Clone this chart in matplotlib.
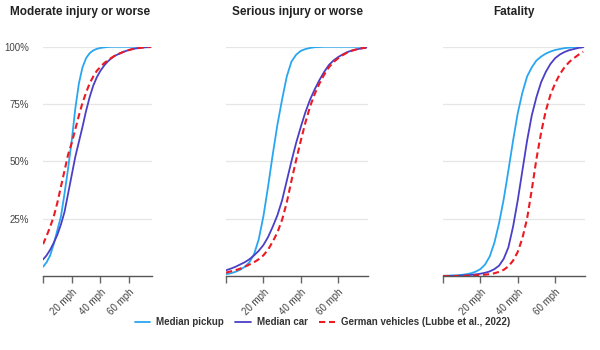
import matplotlib
matplotlib.use("Agg")
import matplotlib.pyplot as plt

plt.rcParams['font.family'] = ['Liberation Sans', 'DejaVu Sans']

# speed in mph (every 2.5 mph), values are the share of pedestrians injured
speed_mph = [0, 2.5, 5, 7.5, 10, 12.5, 15, 17.5, 20, 22.5, 25, 27.5, 30, 32.5, 35, 37.5,
             40, 42.5, 45, 47.5, 50, 52.5, 55, 57.5, 60, 62.5, 65, 67.5, 70, 72.5, 75]

moderate_pickup = [0.04, 0.06, 0.09, 0.14, 0.20, 0.26, 0.36, 0.47, 0.59, 0.73, 0.84, 0.91,
                   0.95, 0.972, 0.984, 0.991, 0.995, 0.997, 0.999, 1, 1, 1, 1, 1, 1, 1,
                   1, 1, 1, 1, 1]
moderate_car = [0.072, 0.09, 0.115, 0.145, 0.18, 0.225, 0.28, 0.36, 0.44, 0.52, 0.585, 0.65,
                0.72, 0.78, 0.83, 0.867, 0.895, 0.917, 0.935, 0.949, 0.96, 0.968, 0.975,
                0.981, 0.986, 0.99, 0.993, 0.995, 0.997, 0.998, 0.999]
moderate_german = [0.139, 0.175, 0.215, 0.26, 0.32, 0.39, 0.46, 0.53, 0.58, 0.64, 0.70, 0.755,
                   0.80, 0.84, 0.87, 0.895, 0.912, 0.928, 0.94, 0.951, 0.961, 0.968, 0.975,
                   0.981, 0.986, 0.99, 0.993, 0.995, 0.997, 0.998, 0.999]

serious_pickup = [0.008, 0.012, 0.018, 0.027, 0.04, 0.06, 0.095, 0.16, 0.26, 0.39, 0.53, 0.66,
                  0.77, 0.87, 0.935, 0.965, 0.982, 0.99, 0.995, 0.998, 0.999, 1, 1, 1, 1,
                  1, 1, 1, 1, 1, 1]
serious_car = [0.025, 0.032, 0.04, 0.05, 0.06, 0.073, 0.09, 0.11, 0.135, 0.17, 0.215, 0.265,
               0.33, 0.415, 0.50, 0.58, 0.65, 0.715, 0.77, 0.815, 0.855, 0.89, 0.92, 0.94,
               0.955, 0.967, 0.977, 0.984, 0.989, 0.993, 0.996]
serious_german = [0.015, 0.02, 0.025, 0.032, 0.04, 0.05, 0.06, 0.073, 0.09, 0.115, 0.15, 0.19,
                  0.245, 0.32, 0.415, 0.505, 0.59, 0.67, 0.74, 0.795, 0.84, 0.878, 0.91, 0.933,
                  0.95, 0.964, 0.975, 0.983, 0.989, 0.993, 0.996]

fatal_pickup = [0.001, 0.0015, 0.002, 0.003, 0.005, 0.008, 0.012, 0.019, 0.03, 0.05, 0.085, 0.145,
                0.23, 0.335, 0.46, 0.59, 0.71, 0.80, 0.87, 0.91, 0.94, 0.957, 0.97, 0.979,
                0.986, 0.99, 0.994, 0.996, 0.998, 0.999, 1.0]
fatal_car = [0, 0, 0.001, 0.001, 0.002, 0.003, 0.005, 0.007, 0.01, 0.014, 0.02, 0.03, 0.045,
             0.075, 0.125, 0.215, 0.33, 0.46, 0.59, 0.70, 0.78, 0.845, 0.89, 0.925, 0.95,
             0.966, 0.977, 0.985, 0.99, 0.995, 0.998]
fatal_german = [0, 0, 0, 0, 0.001, 0.001, 0.002, 0.003, 0.004, 0.006, 0.008, 0.012, 0.018,
                0.027, 0.042, 0.067, 0.105, 0.165, 0.25, 0.375, 0.51, 0.625, 0.72, 0.79, 0.84,
                0.88, 0.91, 0.933, 0.95, 0.965, 0.978]

titles = ["Moderate injury or worse", "Serious injury or worse", "Fatality"]
series_labels = ["Median pickup", "Median car", "German vehicles (Lubbe et al., 2022)"]
x_ticks = [0, 20, 40, 60]
x_tick_labels = ["", "20 mph", "40 mph", "60 mph"]
y_ticks = [0.25, 0.5, 0.75, 1.0]
y_tick_labels = ["25%", "50%", "75%", "100%"]

panels = [
    (moderate_pickup, moderate_car, moderate_german),
    (serious_pickup, serious_car, serious_german),
    (fatal_pickup, fatal_car, fatal_german),
]

PICKUP = "#29a6f0"
CAR = "#4a3fc6"
GERMAN = "#ec1a22"

fig = plt.figure(figsize=(6, 3.5), dpi=100)
fig.patch.set_facecolor("white")

# axes boxes in figure fractions (left, bottom, width, height)
boxes = [
    (0.0717, 0.2114, 0.1817, 0.655),
    (0.3767, 0.2114, 0.2367, 0.655),
    (0.7383, 0.2114, 0.2367, 0.655),
]
title_x = [0.017, 0.496, 0.857]
title_ha = ["left", "center", "center"]

lines = []
for i, (pickup, car, german) in enumerate(panels):
    ax = fig.add_axes(boxes[i])
    l1, = ax.plot(speed_mph, pickup, color=PICKUP, lw=1.3, solid_capstyle="round")
    l2, = ax.plot(speed_mph, car, color=CAR, lw=1.3, solid_capstyle="round")
    l3, = ax.plot(speed_mph, german, color=GERMAN, lw=1.5, dashes=(3, 1.8))
    lines = [l1, l2, l3]

    ax.set_xlim(0, 76)
    ax.set_ylim(0, 1.0)
    ax.set_yticks(y_ticks)
    if i == 0:
        ax.set_yticklabels(y_tick_labels, fontsize=7, color="#444444")
    else:
        ax.set_yticklabels([])
    ax.tick_params(axis="y", length=0, pad=10)
    ax.grid(axis="y", color="#e6e6e6", lw=0.9)
    ax.set_axisbelow(True)

    ax.set_xticks(x_ticks)
    ax.set_xticklabels(x_tick_labels, rotation=45, ha="right", rotation_mode="anchor",
                       fontsize=7, color="#444444")
    ax.tick_params(axis="x", length=5, width=1, color="#666666", pad=3)

    for s in ["top", "right", "left"]:
        ax.spines[s].set_visible(False)
    ax.spines["bottom"].set_color("#555555")
    ax.spines["bottom"].set_linewidth(1)

    fig.text(title_x[i], 0.965, titles[i], ha=title_ha[i], va="center",
             fontsize=8.5, fontweight="bold", color="#222222")

fig.legend(lines, series_labels, loc="center", bbox_to_anchor=(0.537, 0.08), ncol=3,
           frameon=False, handlelength=1.6, handletextpad=0.6, columnspacing=1.2,
           prop={"size": 7, "weight": "bold"}, labelcolor="#333333")

fig.savefig("out.png", dpi=100, facecolor="white")
